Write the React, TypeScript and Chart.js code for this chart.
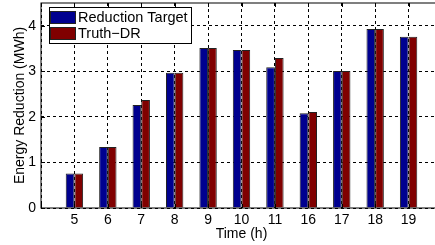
import { useEffect, useRef } from 'react';
import { Chart, registerables } from 'chart.js';

Chart.register(...registerables);

const hours = ['5', '6', '7', '8', '9', '10', '11', '16', '17', '18', '19'];
const reductionTarget = [0.76, 1.34, 2.26, 2.97, 3.51, 3.47, 3.09, 2.08, 3.01, 3.93, 3.76];
const truthDR = [0.76, 1.34, 2.37, 2.97, 3.51, 3.47, 3.29, 2.11, 3.01, 3.93, 3.76];
const seriesNames = ['Reduction Target', 'Truth\u2212DR'];
const seriesColors = ['#00008f', '#800000'];
const yMin = 0;
const yMax = 4.5;
const xMin = 0;
const xMax = 12;

const FONT = "'Liberation Sans', Arial, Helvetica, sans-serif";

const framePlugin = {
  id: 'matlabFrame',
  afterDraw(chart: any) {
    const { ctx, chartArea: a, scales } = chart;
    ctx.save();
    ctx.strokeStyle = '#000';
    ctx.lineWidth = 1;
    ctx.setLineDash([]);
    ctx.strokeRect(a.left, a.top, a.right - a.left, a.bottom - a.top);
    // inward tick marks
    ctx.beginPath();
    const xs = scales.x;
    const ys = scales.y;
    xs.ticks.forEach((t: any) => {
      const px = Math.round(xs.getPixelForValue(t.value)) + 0.5;
      ctx.moveTo(px, a.bottom);
      ctx.lineTo(px, a.bottom - 4);
      ctx.moveTo(px, a.top);
      ctx.lineTo(px, a.top + 4);
    });
    ys.ticks.forEach((t: any) => {
      const py = Math.round(ys.getPixelForValue(t.value)) + 0.5;
      ctx.moveTo(a.left, py);
      ctx.lineTo(a.left + 4, py);
      ctx.moveTo(a.right, py);
      ctx.lineTo(a.right - 4, py);
    });
    ctx.stroke();

    // legend box inside the plot (top-left)
    const lx = a.left + 8;
    const ly = a.top + 4;
    const lw = 142;
    const lh = 36;
    ctx.fillStyle = '#fff';
    ctx.fillRect(lx, ly, lw, lh);
    ctx.strokeStyle = '#000';
    ctx.strokeRect(lx + 0.5, ly + 0.5, lw, lh);
    ctx.font = `14.5px ${FONT}`;
    ctx.textBaseline = 'middle';
    ctx.textAlign = 'left';
    chart.data.datasets.forEach((ds: any, i: number) => {
      const sy = ly + 4 + i * 16;
      ctx.fillStyle = ds.backgroundColor;
      ctx.fillRect(lx + 1.5, sy, 25, 12);
      ctx.strokeStyle = '#222';
      ctx.strokeRect(lx + 1.5, sy + 0.5, 25, 12);
      ctx.fillStyle = '#000';
      ctx.fillText(ds.label, lx + 29, sy + 7);
    });
    ctx.restore();
  },
};

function App() {
  const ref = useRef<HTMLCanvasElement | null>(null);

  useEffect(() => {
    if (!ref.current) return;
    const chart = new Chart(ref.current, {
      type: 'bar',
      data: {
        datasets: [reductionTarget, truthDR].map((vals, si) => ({
          label: seriesNames[si],
          data: vals.map((v, i) => ({ x: i + 1, y: v })),
          backgroundColor: seriesColors[si],
          borderColor: '#222',
          borderWidth: 1,
          categoryPercentage: 0.52,
          barPercentage: 1,
        })),
      },
      options: {
        animation: false,
        responsive: true,
        maintainAspectRatio: false,
        layout: { padding: { left: 0, top: 3, right: 0, bottom: 0 } },
        plugins: {
          legend: { display: false },
          tooltip: { enabled: false },
        },
        scales: {
          x: {
            type: 'linear',
            min: xMin,
            max: xMax,
            offset: false,
            grid: { color: '#000', lineWidth: 1, drawTicks: false, offset: false },
            border: { display: false, dash: [3, 3] },
            ticks: {
              stepSize: 1,
              autoSkip: false,
              maxRotation: 0,
              padding: 4,
              color: '#000',
              font: { family: FONT, size: 14 },
              callback: (v: any) => hours[Number(v) - 1] ?? '',
            },
            title: {
              display: true,
              text: 'Time (h)',
              color: '#000',
              font: { family: FONT, size: 14 },
              padding: { top: 0, bottom: 2 },
            },
            afterFit: (s: any) => {
              s.height = 37;
              s.paddingLeft = 0;
              s.paddingRight = 0;
            },
          },
          y: {
            min: yMin,
            max: yMax,
            grid: { color: '#000', lineWidth: 1, drawTicks: false },
            border: { display: false, dash: [3, 3] },
            ticks: {
              stepSize: 1,
              includeBounds: false,
              padding: 5,
              color: '#000',
              font: { family: FONT, size: 14 },
            },
            title: {
              display: true,
              text: 'Energy Reduction (MWh)',
              color: '#000',
              font: { family: FONT, size: 14 },
              padding: { top: 12, bottom: 0 },
            },
            afterFit: (s: any) => {
              s.width = 41;
              s.paddingTop = 0;
              s.paddingBottom = 0;
            },
          },
        },
      },
      plugins: [framePlugin],
    } as any);
    return () => chart.destroy();
  }, []);

  return (
    <div style={{ position: 'fixed', left: 0, top: 0, width: 435, height: 245, overflow: 'hidden', background: '#fff' }}>
      <div style={{ position: 'relative', width: 442, height: 245 }}>
        <canvas ref={ref} />
      </div>
    </div>
  );
}

export default App;
